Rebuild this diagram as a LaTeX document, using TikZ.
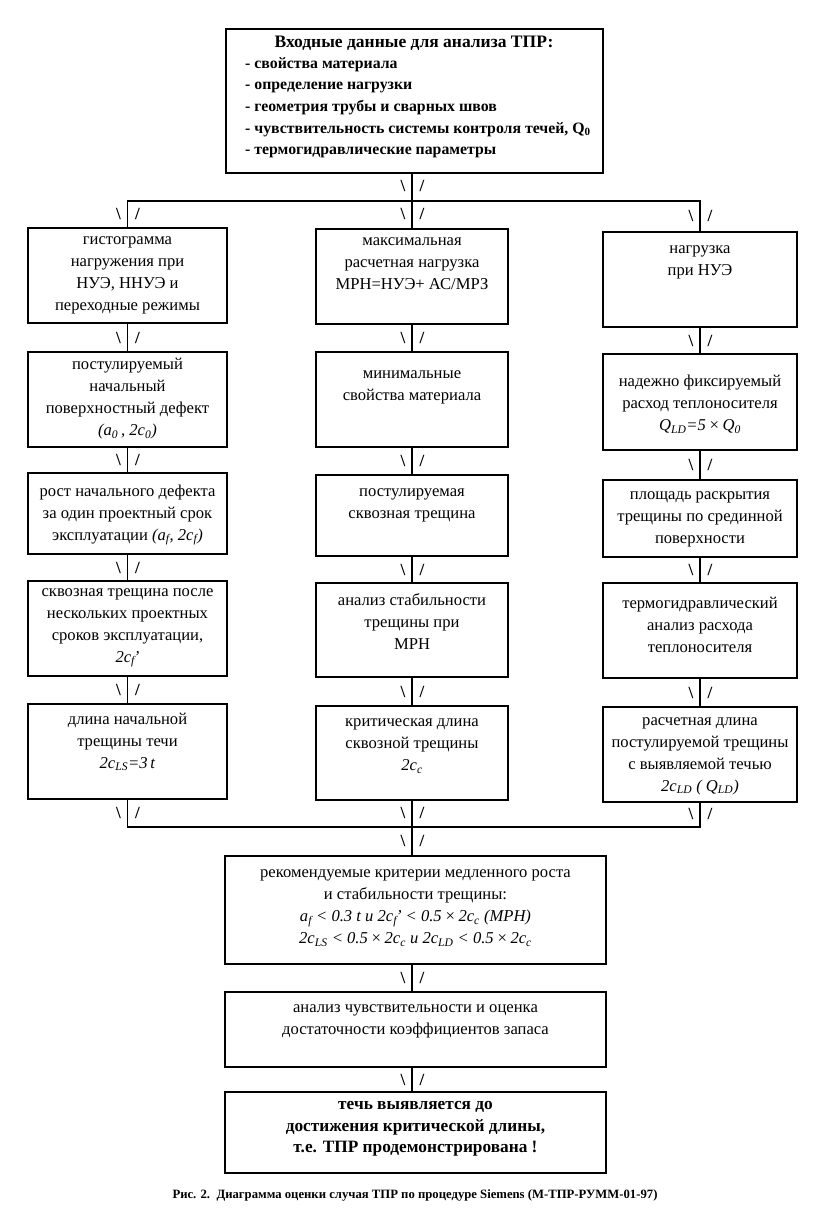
\documentclass[tikz,border=0pt]{standalone}
\usepackage{fontspec}
\setmainfont{Liberation Serif}
\usetikzlibrary{calc}
\newcommand{\bx}[5]{\node[box, minimum width={#3-#2}, minimum height={#5-#4}] (#1) at ({(#2+#3)/2},{(#4+#5)/2}) {};}
\newcommand{\mks}[3]{\node[mk] (#1a) at ({#2-9},#3) {\textbackslash}; \node[mk] (#1b) at ({#2+10},#3) {/};}
\newcommand{\sbs}[1]{\textsubscript{#1}}
\begin{document}
\begin{tikzpicture}[x=1pt,y=-1pt,
 box/.style={draw, line width=1.7pt, inner sep=0pt},
 txt/.style={align=center, font=\fontsize{16.6}{22}\selectfont, inner sep=0pt},
 btxt/.style={txt, font=\fontsize{17.3}{21.5}\selectfont\bfseries},
 mk/.style={font=\fontsize{17}{17}\selectfont\bfseries, inner sep=0pt},
 conn/.style={line width=1.3pt}]
\useasboundingbox (0,0) rectangle (825,1228);
% boxes
\bx{top}{226}{603}{29}{173}
\bx{l1}{28}{227}{228}{323}
\bx{l2}{28}{227}{352}{447}
\bx{l3}{28}{227}{473}{554}
\bx{l4}{28}{227}{581}{676}
\bx{l5}{28}{227}{704}{799}
\bx{m1}{316}{508}{229}{324}
\bx{m2}{316}{508}{352}{447}
\bx{m3}{316}{508}{475}{556}
\bx{m4}{316}{508}{583}{677}
\bx{m5}{316}{508}{706}{800}
\bx{r1}{603}{797}{232}{327}
\bx{r2}{603}{797}{354}{450}
\bx{r3}{603}{797}{480}{557}
\bx{r4}{603}{797}{583}{678}
\bx{r5}{603}{797}{707}{802}
\bx{crit}{225}{606}{856}{964}
\bx{sens}{225}{606}{992}{1067}
\bx{fin}{225}{606}{1092}{1173}
% texts
\node[btxt, font=\fontsize{17.5}{21.5}\selectfont\bfseries] (title) at (414,43) {Входные данные для анализа ТПР:};
\node[btxt, font=\fontsize{15.8}{21.7}\selectfont\bfseries, align=left, anchor=north west] (list) at (245,57) {- свойства материала\\- определение нагрузки\\- геометрия трубы и сварных швов\\- чувствительность системы контроля течей, Q\sbs{0}\\- термогидравлические параметры};
\node[txt] (l1t) at (127.5,275) {гистограмма\\нагружения при\\НУЭ, ННУЭ и\\переходные режимы};
\node[txt] (m1t) at (412,264) {максимальная\\расчетная нагрузка\\МРН=НУЭ+ АС/МРЗ};
\node[txt] (r1t) at (700,262) {нагрузка\\при НУЭ};
\node[txt] (l2t) at (127.5,399) {постулируемый\\начальный\\поверхностный дефект\\\textit{(a\sbs{0}\,, 2c\sbs{0})}};
\node[txt] (m2t) at (412,387) {минимальные\\свойства материала};
\node[txt] (r2t) at (700,404) {надежно фиксируемый\\расход теплоносителя\\\textit{Q\sbs{LD}=5\,×\,Q\sbs{0}}};
\node[txt] (l3t) at (127.5,515) {рост начального дефекта\\за один проектный срок\\эксплуатации \textit{(a\sbs{f}, 2c\sbs{f})}};
\node[txt] (m3t) at (412,505) {постулируемая\\сквозная трещина};
\node[txt] (r3t) at (700,519) {площадь раскрытия\\трещины по срединной\\поверхности};
\node[txt] (l4t) at (127.5,628) {сквозная трещина после\\нескольких проектных\\сроков эксплуатации,\\\textit{2c\sbs{f}\kern-1pt'}};
\node[txt] (m4t) at (412,622) {анализ стабильности\\трещины при\\МРН};
\node[txt] (r4t) at (700,625) {термогидравлический\\анализ расхода\\теплоносителя};
\node[txt] (l5t) at (127.5,742) {длина начальной\\трещины течи\\\textit{2c\sbs{LS}=3\,t}};
\node[txt] (m5t) at (412,746) {критическая длина\\сквозной трещины\\\textit{2c\sbs{c}}};
\node[txt] (r5t) at (700,756) {расчетная длина\\постулируемой трещины\\с выявляемой течью\\\textit{2c\sbs{LD} ( Q\sbs{LD})}};
\node[txt] (critt) at (415.5,908) {рекомендуемые критерии медленного роста\\и стабильности трещины:\\\textit{a\sbs{f} < 0.3 t и 2c\sbs{f}\kern-1pt' < 0.5\,×\,2c\sbs{c} (МРН)}\\\textit{2c\sbs{LS} < 0.5\,×\,2c\sbs{c} и 2c\sbs{LD} < 0.5\,×\,2c\sbs{c}}};
\node[txt] (senst) at (415.5,1021) {анализ чувствительности и оценка\\достаточности коэффициентов запаса};
\node[btxt] (fint) at (415.5,1129) {течь выявляется до\\достижения критической длины,\\т.е. ТПР продемонстрирована !};
\node[font=\fontsize{12.7}{14}\selectfont\bfseries, inner sep=0pt] (cap) at (415,1195) {Рис. 2.\ \ Диаграмма оценки случая ТПР по процедуре Siemens (М-ТПР-РУММ-01-97)};
% connectors
\coordinate (busT) at (412,201);
\coordinate (busB) at (412,827);
\draw[conn] (top.south -| m1.north) -- (m1.north);
\draw[conn] (l1.north) -- (l1.north |- busT) -- (r1.north |- busT) -- (r1.north);
\foreach \c in {l,m,r}{
  \draw[conn] (\c1.south) -- (\c2.north);
  \draw[conn] (\c2.south) -- (\c3.north);
  \draw[conn] (\c3.south) -- (\c4.north);
  \draw[conn] (\c4.south) -- (\c5.north);
}
\draw[conn] (l5.south) -- (l5.south |- busB) -- (r5.south |- busB) -- (r5.south);
\draw[conn] (m5.south) -- (m5.south |- crit.north);
\draw[conn] (crit.south -| m5.south) -- (sens.north -| m5.south);
\draw[conn] (sens.south -| m5.south) -- (fin.north -| m5.south);
% marks
\mks{t1}{412}{186}
\mks{t2l}{127.5}{214}
\mks{t2m}{412}{214}
\mks{t2r}{700}{216}
\mks{a1}{127.5}{337.5}
\mks{a2}{127.5}{460}
\mks{a3}{127.5}{567.5}
\mks{a4}{127.5}{690}
\mks{b1}{412}{338}
\mks{b2}{412}{461}
\mks{b3}{412}{569.5}
\mks{b4}{412}{691.5}
\mks{c1}{700}{340.5}
\mks{c2}{700}{465}
\mks{c3}{700}{570}
\mks{c4}{700}{692.5}
\mks{d1}{127.5}{813}
\mks{d2}{412}{813}
\mks{d3}{700}{814}
\mks{d4}{412}{841}
\mks{e1}{412}{978}
\mks{e2}{412}{1079.5}
\end{tikzpicture}
\end{document}
